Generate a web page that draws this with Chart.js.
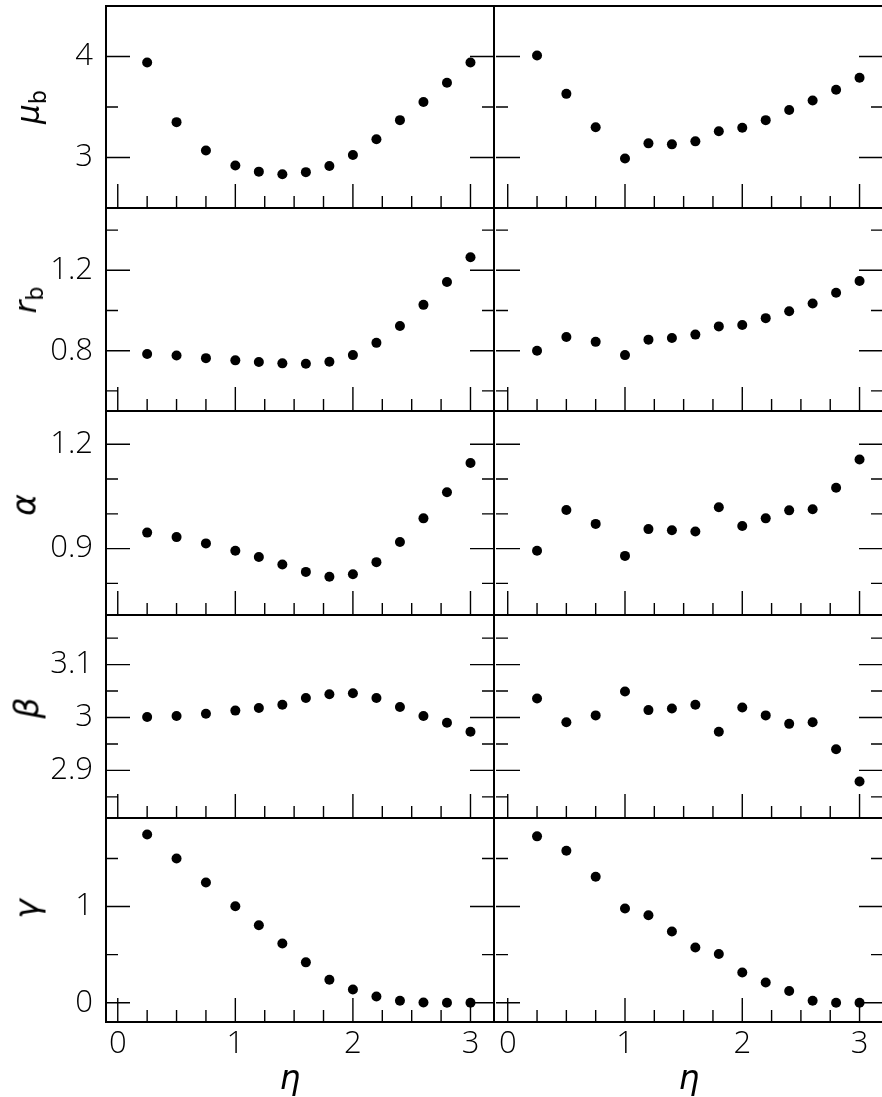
<!DOCTYPE html>
<html>
<head>
<meta charset="utf-8">
<script src="https://cdn.jsdelivr.net/npm/chart.js@4.4.1/dist/chart.umd.min.js"></script>
<style>
  html, body { margin:0; padding:0; background:#fff; }
  #wrap { position:relative; width:882px; height:1097px; overflow:hidden; background:#fff; }
  #wrap canvas { position:absolute; }
  .ttl { position:absolute; white-space:nowrap; color:#000; font-family:'DejaVu Sans', sans-serif; font-style:italic; line-height:1; }
  .rot { transform: translate(-50%,-50%) rotate(-90deg); }
  .hor { transform: translate(-50%,-50%); }
  .ttl sub { font-size:0.72em; font-style:normal; vertical-align:-0.3em; }
</style>
</head>
<body>
<div id="wrap"></div>
<script>
// ---- data ----
const eta = [0.25, 0.5, 0.75, 1.0, 1.2, 1.4, 1.6, 1.8, 2.0, 2.2, 2.4, 2.6, 2.8, 3.0];

const muLeft    = [3.94, 3.35, 3.07, 2.92, 2.86, 2.835, 2.855, 2.915, 3.025, 3.18, 3.37, 3.55, 3.74, 3.94];
const muRight   = [4.01, 3.63, 3.30, 2.99, 3.14, 3.13, 3.16, 3.26, 3.295, 3.37, 3.47, 3.565, 3.67, 3.79];
const rbLeft    = [0.784, 0.776, 0.763, 0.752, 0.744, 0.737, 0.735, 0.745, 0.778, 0.839, 0.923, 1.028, 1.142, 1.265];
const rbRight   = [0.80, 0.868, 0.844, 0.778, 0.855, 0.863, 0.88, 0.921, 0.928, 0.962, 0.996, 1.035, 1.088, 1.147];
const alphaLeft = [0.946, 0.933, 0.915, 0.894, 0.876, 0.854, 0.833, 0.819, 0.826, 0.861, 0.919, 0.987, 1.062, 1.146];
const alphaRight= [0.894, 1.011, 0.971, 0.879, 0.956, 0.953, 0.949, 1.019, 0.965, 0.987, 1.01, 1.013, 1.075, 1.156];
const betaLeft  = [3.001, 3.003, 3.007, 3.013, 3.018, 3.024, 3.037, 3.044, 3.046, 3.037, 3.02, 3.003, 2.99, 2.973];
const betaRight = [3.036, 2.991, 3.004, 3.049, 3.014, 3.017, 3.024, 2.973, 3.019, 3.004, 2.988, 2.991, 2.94, 2.879];
const gammaLeft = [1.75, 1.50, 1.25, 1.003, 0.805, 0.617, 0.42, 0.24, 0.137, 0.065, 0.02, 0.003, 0.0, 0.0];
const gammaRight= [1.73, 1.58, 1.31, 0.98, 0.91, 0.74, 0.575, 0.507, 0.315, 0.21, 0.123, 0.02, 0.0, 0.0];

// tick values
const xMajorTicks = [0, 1, 2, 3];
const xMinorTicks = [0.25, 0.5, 0.75, 1.25, 1.5, 1.75, 2.25, 2.5, 2.75, 3.25];
const muMajor = [3, 4],            muMinor = [2.5, 3.5, 4.5];
const rbMajor = [0.8, 1.2],        rbMinor = [0.6, 1.0, 1.4];
const alphaMajor = [0.9, 1.2],     alphaMinor = [0.8, 1.0, 1.1];
const betaMajor = [2.9, 3, 3.1],   betaMinor = [2.85, 2.95, 3.05, 3.15];
const gammaMajor = [0, 1],         gammaMinor = [0.5, 1.5];

// axis titles
const yTitles = ['μ<sub>b</sub>', 'r<sub>b</sub>', 'α', 'β', 'γ'];
const xTitle = 'η';

// ---- layout ----
const rows = [
  { top: 5,   bottom: 209,  min: 2.5,   max: 4.5,  major: muMajor,    minor: muMinor,    left: muLeft,    right: muRight },
  { top: 209, bottom: 412,  min: 0.5,   max: 1.5,  major: rbMajor,    minor: rbMinor,    left: rbLeft,    right: rbRight },
  { top: 412, bottom: 616,  min: 0.709, max: 1.29, major: alphaMajor, minor: alphaMinor, left: alphaLeft, right: alphaRight },
  { top: 616, bottom: 819,  min: 2.81,  max: 3.19, major: betaMajor,  minor: betaMinor,  left: betaLeft,  right: betaRight },
  { top: 819, bottom: 1022, min: -0.2,  max: 1.9,  major: gammaMajor, minor: gammaMinor, left: gammaLeft, right: gammaRight }
];
const titlePos = [[31,107],[28,300],[24,505],[27,708],[27,909]];

const PANEL_L = 106, PANEL_MID = 495, PANEL_R = 884;
const M = 4;
const BOTTOM_EXTRA = 75;
const TICK_FONT = { family: "'Open Sans', 'DejaVu Sans', sans-serif", size: 31, weight: '300' };

const frameTicks = {
  id: 'frameTicks',
  afterDraw(chart) {
    const { ctx, chartArea: { left, right, top, bottom }, scales: { x, y } } = chart;
    const cfg = chart.options.plugins.frameTicks;
    ctx.save();
    ctx.strokeStyle = '#000';
    ctx.lineCap = 'butt';
    ctx.lineWidth = 1.4;
    ctx.beginPath();
    const MAJ = 24, MIN = 12;
    xMajorTicks.forEach(v => { const px = x.getPixelForValue(v); if (px >= left && px <= right) { ctx.moveTo(px, bottom); ctx.lineTo(px, bottom - MAJ); } });
    xMinorTicks.forEach(v => { const px = x.getPixelForValue(v); if (px >= left && px <= right) { ctx.moveTo(px, bottom); ctx.lineTo(px, bottom - MIN); } });
    cfg.major.forEach(v => { const py = y.getPixelForValue(v); ctx.moveTo(left, py); ctx.lineTo(left + MAJ, py); ctx.moveTo(right, py); ctx.lineTo(right - MAJ, py); });
    cfg.minor.forEach(v => { const py = y.getPixelForValue(v); ctx.moveTo(left, py); ctx.lineTo(left + MIN, py); ctx.moveTo(right, py); ctx.lineTo(right - MIN, py); });
    ctx.stroke();
    // frame edges: each shared edge drawn by a single panel only
    ctx.lineWidth = 2;
    ctx.beginPath();
    const L = Math.round(left), R = Math.round(right), T = Math.round(top), B = Math.round(bottom);
    if (cfg.drawTop) { ctx.moveTo(L - 1, T); ctx.lineTo(R + 1, T); }
    ctx.moveTo(L - 1, B); ctx.lineTo(R + 1, B);
    if (cfg.drawLeft) { ctx.moveTo(L, T - 1); ctx.lineTo(L, B + 1); }
    ctx.moveTo(R, T - 1); ctx.lineTo(R, B + 1);
    ctx.stroke();
    ctx.restore();
  }
};

const wrap = document.getElementById('wrap');

function makePanel(row, isLeft, isBottom, isTop) {
  const c = document.createElement('canvas');
  const h = (row.bottom - row.top) + M + (isBottom ? BOTTOM_EXTRA : M);
  let leftPx, w, pad;
  if (isLeft) {
    leftPx = 0; w = PANEL_MID + M;
    pad = { left: 0, right: M, top: M, bottom: isBottom ? 0 : M };
  } else {
    leftPx = PANEL_MID - M; w = (PANEL_R - PANEL_MID) + 2 * M;
    pad = { left: M, right: M, top: M, bottom: isBottom ? 0 : M };
  }
  c.width = w; c.height = h;
  c.style.left = leftPx + 'px'; c.style.top = (row.top - M) + 'px';
  c.style.width = w + 'px'; c.style.height = h + 'px';
  wrap.appendChild(c);
  const vals = isLeft ? row.left : row.right;
  new Chart(c, {
    type: 'scatter',
    data: { datasets: [{ data: eta.map((e, i) => ({ x: e, y: vals[i] })), pointRadius: 5, pointBackgroundColor: '#000', pointBorderColor: '#000', pointBorderWidth: 0, showLine: false }] },
    options: {
      responsive: false, animation: false, devicePixelRatio: 1,
      layout: { padding: pad },
      plugins: { legend: { display: false }, tooltip: { enabled: false },
                 frameTicks: { major: row.major, minor: row.minor, drawTop: isTop, drawLeft: isLeft } },
      scales: {
        x: {
          type: 'linear', min: -0.1, max: 3.2, display: isBottom,
          grid: { display: false, drawTicks: false }, border: { display: false },
          afterBuildTicks: s => { s.ticks = xMajorTicks.map(v => ({ value: v })); },
          afterFit: s => { if (isBottom) { s.height = BOTTOM_EXTRA; } s.paddingLeft = 0; s.paddingRight = 0; },
          ticks: { font: TICK_FONT, color: '#000', padding: 4, maxRotation: 0, minRotation: 0, autoSkip: false, callback: v => String(v) }
        },
        y: {
          type: 'linear', min: row.min, max: row.max, display: isLeft,
          grid: { display: false, drawTicks: false }, border: { display: false },
          afterBuildTicks: s => { s.ticks = row.major.map(v => ({ value: v })); },
          afterFit: s => { if (isLeft) { s.width = PANEL_L; } s.paddingTop = 0; s.paddingBottom = 0; },
          ticks: { font: TICK_FONT, color: '#000', padding: 13, autoSkip: false, callback: v => String(v) }
        }
      }
    },
    plugins: [frameTicks]
  });
}

rows.forEach((row, i) => {
  const isBottom = i === rows.length - 1;
  const isTop = i === 0;
  makePanel(row, true, isBottom, isTop);
  makePanel(row, false, isBottom, isTop);
  const t = document.createElement('div');
  t.className = 'ttl rot';
  t.style.left = titlePos[i][0] + 'px';
  t.style.top = titlePos[i][1] + 'px';
  t.style.fontSize = (i < 2 ? 31 : 33) + 'px';
  t.innerHTML = yTitles[i];
  wrap.appendChild(t);
});
[[290, 1077], [689, 1077]].forEach(p => {
  const t = document.createElement('div');
  t.className = 'ttl hor';
  t.style.left = p[0] + 'px'; t.style.top = p[1] + 'px';
  t.style.fontSize = '33px';
  t.textContent = xTitle;
  wrap.appendChild(t);
});
</script>
</body>
</html>
